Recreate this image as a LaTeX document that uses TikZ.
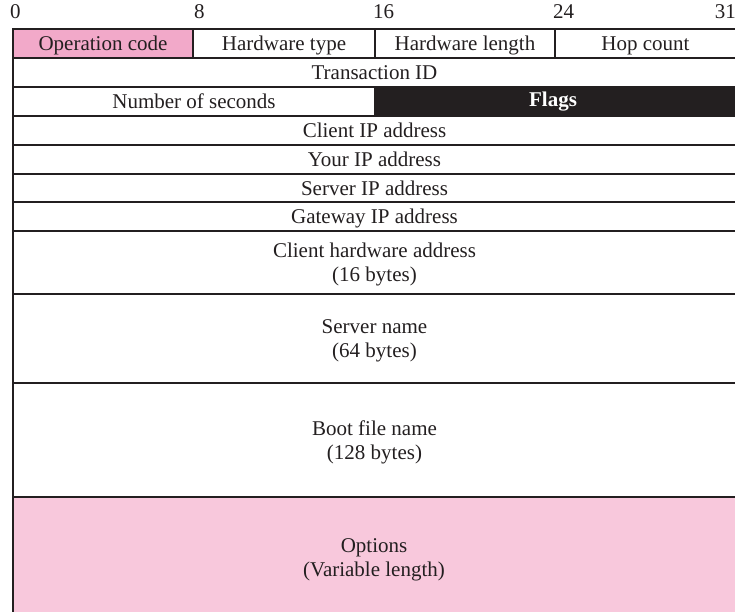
\documentclass[tikz,border=0pt]{standalone}
\usepackage{fontspec}
\setmainfont{Liberation Serif}
\definecolor{linec}{HTML}{231F20}
\definecolor{oppink}{HTML}{F2A9C9}
\definecolor{optpink}{HTML}{F8C8DC}
\newcommand{\fs}{\fontsize{21}{24}\selectfont}
\tikzset{
  cell/.style={draw=linec, line width=2pt, inner sep=0pt, anchor=center, font=\fs, align=center, text=linec, text depth=0pt},
  bitlbl/.style={inner sep=0pt, font=\fs, text=linec}
}
\begin{document}
\begin{tikzpicture}[x=1pt,y=-1pt]
\useasboundingbox (0,0) rectangle (735,611);
% bit labels
\node[bitlbl, anchor=base west] (b0) at (10,18) {0};
\node[bitlbl, anchor=base west] (b8) at (194,18) {8};
\node[bitlbl, anchor=base west] (b16) at (373,18) {16};
\node[bitlbl, anchor=base west] (b24) at (553,18) {24};
\node[bitlbl, anchor=base east] (b31) at (736,18) {31};
% row 1
\node[cell, fill=oppink, minimum width=180pt, minimum height=29pt] (op) at (103,43.5) {Operation code};
\node[cell, minimum width=182pt, minimum height=29pt] (hwt) at (284,43.5) {Hardware type};
\node[cell, minimum width=180pt, minimum height=29pt] (hwl) at (465,43.5) {Hardware length};
\node[cell, minimum width=181pt, minimum height=29pt] (hop) at (645.5,43.5) {Hop count};
% row 2
\node[cell, minimum width=723pt, minimum height=29pt] (tid) at (374.5,72.5) {Transaction ID};
% row 3
\node[cell, minimum width=362pt, minimum height=29pt] (nsec) at (194,101.5) {Number of seconds};
\node[cell, fill=linec, minimum width=361pt, minimum height=29pt] (flags) at (555.5,101.5) {};
\node[font=\fs\bfseries, text=white, inner sep=0pt, text depth=0pt] (flagst) at (553,99.5) {Flags};
% rows 4-7
\node[cell, minimum width=723pt, minimum height=29pt] (cip) at (374.5,130.5) {Client IP address};
\node[cell, minimum width=723pt, minimum height=29pt] (yip) at (374.5,159.5) {Your IP address};
\node[cell, minimum width=723pt, minimum height=28pt] (sip) at (374.5,188) {Server IP address};
\node[cell, minimum width=723pt, minimum height=29pt] (gip) at (374.5,216.5) {Gateway IP address};
% row 8-10
\node[cell, minimum width=723pt, minimum height=63pt] (cha) at (374.5,262.5) {Client hardware address\\(16 bytes)};
\node[cell, minimum width=723pt, minimum height=89pt] (sname) at (374.5,338.5) {Server name\\(64 bytes)};
\node[cell, minimum width=723pt, minimum height=114pt] (bfile) at (374.5,440) {Boot file name\\(128 bytes)};
% options
\node[cell, fill=optpink, minimum width=723pt, minimum height=116pt] (opt) at (374.5,555) {};
\node[font=\fs, text=linec, align=center, inner sep=0pt, text depth=0pt] (optt) at (374,558) {Options\\(Variable length)};
\end{tikzpicture}
\end{document}
